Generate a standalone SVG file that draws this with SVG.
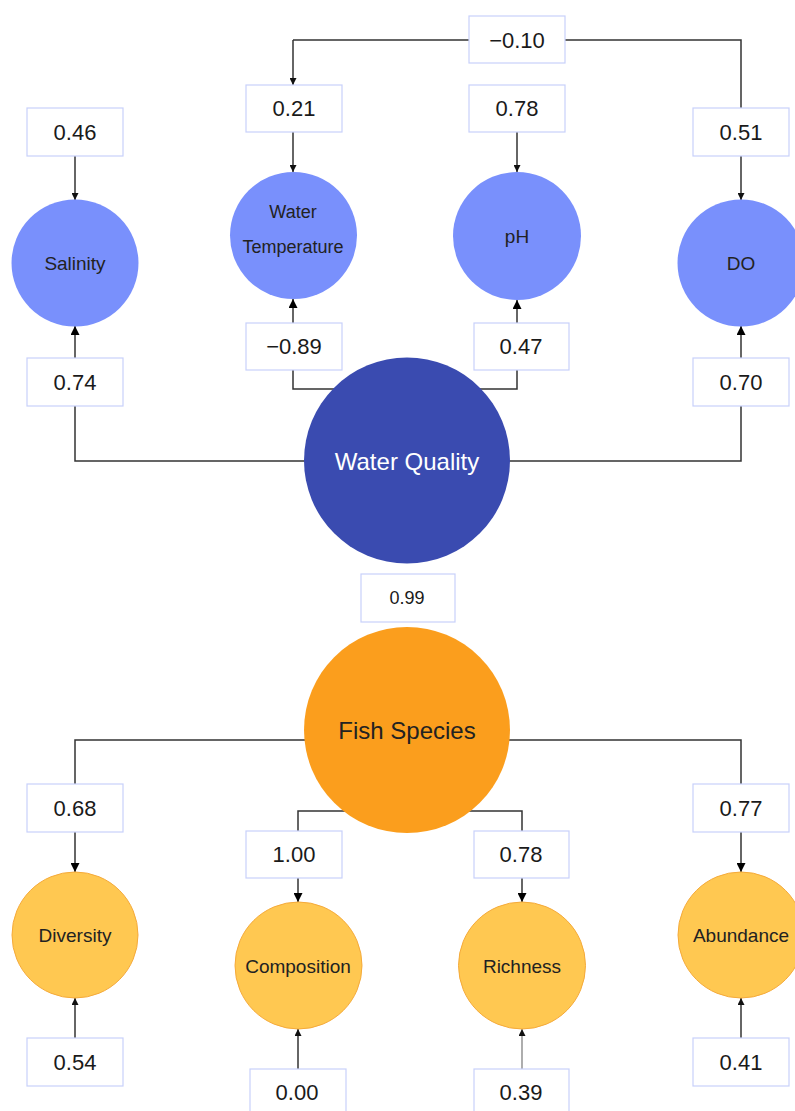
<svg xmlns="http://www.w3.org/2000/svg" width="795" height="1111" viewBox="0 0 795 1111">
<style>
.box{fill:#fff;stroke:#c8d1fb;stroke-width:1.2}
.bt{font-family:"Liberation Sans",Arial,sans-serif;font-size:22px;fill:#1a1a1a;text-anchor:middle;dominant-baseline:central}
.nt{font-family:"Liberation Sans",Arial,sans-serif;font-size:19px;fill:#222;text-anchor:middle;dominant-baseline:central}
.big{font-family:"Liberation Sans",Arial,sans-serif;font-size:24px;text-anchor:middle;dominant-baseline:central}
.blue{fill:#7990fc}
.yel{fill:#ffc851;stroke:#f5aa3a;stroke-width:1}
.ln{fill:none;stroke:#333;stroke-width:1.5}
</style>
<defs>
<marker id="ah" viewBox="0 0 10 10" refX="10" refY="5" markerWidth="7" markerHeight="7" markerUnits="userSpaceOnUse" orient="auto"><path d="M0,0 L10,5 L0,10 z" fill="#111"/></marker>
<marker id="ah2" viewBox="0 0 10 10" refX="10" refY="5" markerWidth="9" markerHeight="9" markerUnits="userSpaceOnUse" orient="auto"><path d="M0,0 L10,5 L0,10 z" fill="#000"/></marker>
</defs>
<g id="connectors">
<path class="ln" d="M293,40 L741,40 L741,108"/>
<path class="ln" d="M293,40 L293,85" marker-end="url(#ah)"/>
<path class="ln" d="M75,156 L75,200" marker-end="url(#ah)"/>
<path class="ln" d="M293,132 L293,172" marker-end="url(#ah)"/>
<path class="ln" d="M517,132 L517,172" marker-end="url(#ah)"/>
<path class="ln" d="M741,156 L741,200" marker-end="url(#ah)"/>
<path class="ln" d="M75,358 L75,326" marker-end="url(#ah2)"/>
<path class="ln" d="M293,323 L293,299" marker-end="url(#ah2)"/>
<path class="ln" d="M517,323 L517,300" marker-end="url(#ah2)"/>
<path class="ln" d="M741,358 L741,326" marker-end="url(#ah2)"/>
<path class="ln" d="M75,406 L75,461 L305,461"/>
<path class="ln" d="M293,370 L293,389 L340,389"/>
<path class="ln" d="M517,370 L517,389 L478,389"/>
<path class="ln" d="M741,406 L741,461 L509,461"/>
<path class="ln" d="M305,740 L75,740 L75,784"/>
<path class="ln" d="M509,740 L741,740 L741,784"/>
<path class="ln" d="M348,811 L298,811 L298,831"/>
<path class="ln" d="M466,811 L522,811 L522,831"/>
<path class="ln" d="M75,832 L75,872" marker-end="url(#ah2)"/>
<path class="ln" d="M298,878 L298,902" marker-end="url(#ah2)"/>
<path class="ln" d="M522,878 L522,902" marker-end="url(#ah2)"/>
<path class="ln" d="M741,832 L741,872" marker-end="url(#ah2)"/>
<path class="ln" d="M75,1038 L75,998" marker-end="url(#ah)"/>
<path class="ln" d="M298,1069 L298,1029" marker-end="url(#ah)"/>
<path class="ln" d="M522,1069 L522,1029" marker-end="url(#ah)" style="stroke:#777;stroke-width:1.2"/>
<path class="ln" d="M741,1038 L741,998" marker-end="url(#ah)"/>
</g>
<g id="b_m010"><rect class="box" x="469" y="16" width="96" height="47"/><text class="bt" x="517" y="40">−0.10</text></g>
<g id="b_046"><rect class="box" x="27" y="108" width="96" height="48"/><text class="bt" x="75" y="132">0.46</text></g>
<g id="b_021"><rect class="box" x="246" y="85" width="96" height="47"/><text class="bt" x="294" y="108">0.21</text></g>
<g id="b_078a"><rect class="box" x="469" y="85" width="96" height="47"/><text class="bt" x="517" y="108">0.78</text></g>
<g id="b_051"><rect class="box" x="693" y="108" width="96" height="48"/><text class="bt" x="741" y="132">0.51</text></g>
<g id="salinity"><circle class="blue" cx="75" cy="263" r="63.5"/><text class="nt" x="75" y="263">Salinity</text></g>
<g id="watertemp"><circle class="blue" cx="293.5" cy="235.5" r="63.5"/><text class="nt" x="293" y="212" style="font-size:18px">Water</text><text class="nt" x="293" y="247" style="font-size:18px">Temperature</text></g>
<g id="ph"><circle class="blue" cx="517" cy="236" r="64"/><text class="nt" x="517" y="236">pH</text></g>
<g id="do"><circle class="blue" cx="741" cy="263" r="63.5"/><text class="nt" x="741" y="263">DO</text></g>
<g id="b_074"><rect class="box" x="27" y="358" width="96" height="48"/><text class="bt" x="75" y="382">0.74</text></g>
<g id="b_m089"><rect class="box" x="246" y="323" width="96" height="47"/><text class="bt" x="294" y="346">−0.89</text></g>
<g id="b_047"><rect class="box" x="474" y="323" width="95" height="47"/><text class="bt" x="521" y="346">0.47</text></g>
<g id="b_070"><rect class="box" x="693" y="358" width="96" height="48"/><text class="bt" x="741" y="382">0.70</text></g>
<g id="waterquality"><circle cx="407" cy="460.5" r="103" fill="#3a4bb0"/><text class="big" x="407" y="461" fill="#fff">Water Quality</text></g>
<g id="b_099"><rect class="box" x="361" y="574" width="94" height="48"/><text class="bt" x="407" y="598" style="font-size:18px">0.99</text></g>
<g id="fishspecies"><circle cx="407" cy="730" r="103" fill="#fb9e1d"/><text class="big" x="407" y="730" fill="#222">Fish Species</text></g>
<g id="b_068"><rect class="box" x="27" y="784" width="96" height="48"/><text class="bt" x="75" y="808">0.68</text></g>
<g id="b_100"><rect class="box" x="246" y="831" width="96" height="47"/><text class="bt" x="294" y="854">1.00</text></g>
<g id="b_078b"><rect class="box" x="474" y="831" width="95" height="47"/><text class="bt" x="521" y="854">0.78</text></g>
<g id="b_077"><rect class="box" x="693" y="784" width="96" height="48"/><text class="bt" x="741" y="808">0.77</text></g>
<g id="diversity"><circle class="yel" cx="75" cy="935" r="63"/><text class="nt" x="75" y="935">Diversity</text></g>
<g id="composition"><circle class="yel" cx="298.5" cy="965.5" r="63.5"/><text class="nt" x="298" y="966">Composition</text></g>
<g id="richness"><circle class="yel" cx="522" cy="965.5" r="63.5"/><text class="nt" x="522" y="966">Richness</text></g>
<g id="abundance"><circle class="yel" cx="741" cy="935" r="63"/><text class="nt" x="741" y="935">Abundance</text></g>
<g id="b_054"><rect class="box" x="27" y="1038" width="96" height="48"/><text class="bt" x="75" y="1062">0.54</text></g>
<g id="b_000"><rect class="box" x="250" y="1069" width="96" height="48"/><text class="bt" x="297" y="1092">0.00</text></g>
<g id="b_039"><rect class="box" x="474" y="1069" width="95" height="48"/><text class="bt" x="521" y="1092">0.39</text></g>
<g id="b_041"><rect class="box" x="693" y="1038" width="96" height="48"/><text class="bt" x="741" y="1062">0.41</text></g>
</svg>
